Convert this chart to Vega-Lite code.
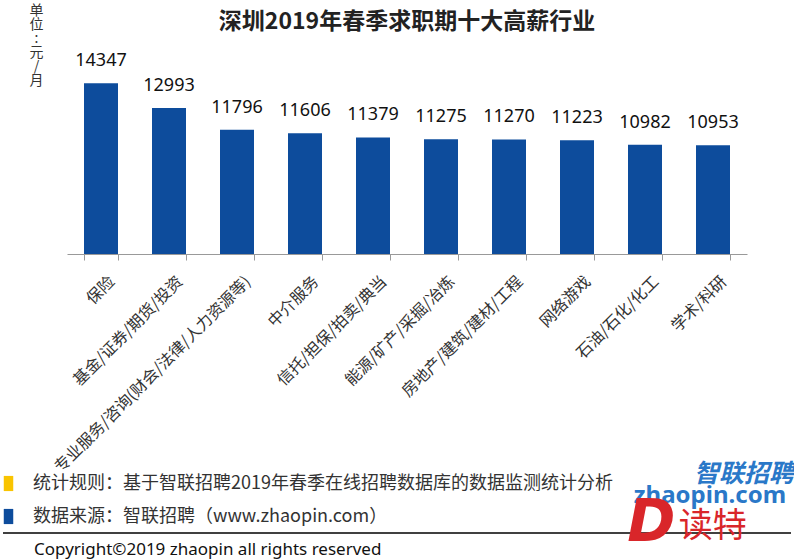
{
  "$schema": "https://vega.github.io/schema/vega-lite/v6.json",
  "background": "white",
  "padding": {"left": 2, "top": 3, "right": 0, "bottom": 0},
  "bounds": "flush",
  "spacing": 213,
  "config": {"view": {"stroke": null}, "font": "Noto Sans CJK SC"},
  "vconcat": [
    {
      "title": {"text": "深圳2019年春季求职期十大高薪行业", "fontSize": 23, "fontWeight": "bold", "color": "#222", "frame": "group", "anchor": "middle", "offset": -31},
      "width": 680,
      "height": 201,
      "data": {"values": [
        {"industry": "保险", "salary": 14347},
        {"industry": "基金/证券/期货/投资", "salary": 12993},
        {"industry": "专业服务/咨询(财会/法律/人力资源等)", "salary": 11796},
        {"industry": "中介服务", "salary": 11606},
        {"industry": "信托/担保/拍卖/典当", "salary": 11379},
        {"industry": "能源/矿产/采掘/冶炼", "salary": 11275},
        {"industry": "房地产/建筑/建材/工程", "salary": 11270},
        {"industry": "网络游戏", "salary": 11223},
        {"industry": "石油/石化/化工", "salary": 10982},
        {"industry": "学术/科研", "salary": 10953}
      ]},
      "encoding": {
        "x": {"field": "industry", "type": "nominal", "sort": null,
          "scale": {"paddingInner": 0.5, "paddingOuter": 0.25},
          "axis": {"title": null, "labelAngle": -45, "labelAlign": "right", "labelBaseline": "top", "labelFontSize": 16, "labelColor": "#333", "labelLimit": 500, "labelPadding": 13, "labelOffset": 5, "tickBand": "extent", "tickColor": "#999", "tickSize": 6, "domainColor": "#999"}},
        "y": {"field": "salary", "type": "quantitative",
          "scale": {"domain": [5000, 16000], "zero": false, "nice": false},
          "axis": {"title": ["单", "位", ":", "元", "/", "月"], "domain": false, "ticks": false, "labels": false, "grid": false, "titleAngle": 0, "titleX": -31, "titleY": -50, "titleAlign": "center", "titleBaseline": "top", "titleFontSize": 14, "titleLineHeight": 14, "titleFontWeight": "normal", "titleColor": "#333"}}
      },
      "layer": [
        {"mark": {"type": "bar", "color": "#0d4c9c"}, "encoding": {"y2": {"datum": 5000}}},
        {"mark": {"type": "text", "baseline": "alphabetic", "dy": -17, "fontSize": 18, "font": "Noto Sans", "color": "#111"}, "encoding": {"text": {"field": "salary", "type": "quantitative", "format": "d"}}}
      ]
    },
    {
      "width": 724,
      "height": 99,
      "data": {"values": [
        {"row": "r1", "marker": "统计规则", "note": "统计规则：基于智联招聘2019年春季在线招聘数据库的数据监测统计分析"},
        {"row": "r2", "marker": "数据来源", "note": "数据来源：智联招聘（www.zhaopin.com）"}
      ]},
      "layer": [
        {"mark": {"type": "point", "shape": "M-1,-1.6H1V1.6H-1Z", "size": 90, "filled": true, "opacity": 1, "strokeWidth": 0},
          "encoding": {
            "x": {"datum": -0.0808, "type": "quantitative", "scale": {"domain": [0, 1], "nice": false, "zero": false}, "axis": null},
            "y": {"field": "row", "type": "nominal", "axis": null, "scale": {"domain": ["r1", "r2", "r3"], "padding": 0}},
            "color": {"field": "marker", "type": "nominal", "scale": {"domain": ["统计规则", "数据来源"], "range": ["#f9c400", "#0d4c9c"]}, "legend": null}
          }},
        {"mark": {"type": "text", "align": "left", "baseline": "middle", "fontSize": 18, "color": "#333"},
          "encoding": {"x": {"datum": -0.047, "type": "quantitative"}, "y": {"field": "row", "type": "nominal"}, "text": {"field": "note"}}},
        {"data": {"values": [{"row": "r3", "copyright": "Copyright©2019 zhaopin all rights reserved"}]},
          "mark": {"type": "text", "align": "left", "baseline": "middle", "fontSize": 17, "font": "Noto Sans", "color": "#111"},
          "encoding": {"x": {"datum": -0.0456, "type": "quantitative"}, "y": {"field": "row", "type": "nominal"}, "text": {"field": "copyright"}}},
        {"data": {"values": [{"divider": "line"}]},
          "mark": {"type": "rule", "color": "#000", "strokeWidth": 1.5},
          "encoding": {"x": {"datum": -0.0884, "type": "quantitative"}, "x2": {"datum": 1}, "y": {"datum": "r3", "type": "nominal", "bandPosition": 0}}},
        {"data": {"values": [{"logo": "智联招聘"}]},
          "mark": {"type": "text", "align": "center", "baseline": "middle", "fontSize": 25, "fontWeight": "bold", "fontStyle": "italic", "color": "#2a78c8", "dy": -10},
          "encoding": {"x": {"datum": 0.935, "type": "quantitative"}, "y": {"datum": "r1", "type": "nominal"}, "text": {"field": "logo"}}},
        {"data": {"values": [{"logo": "zhaopin.com"}]},
          "mark": {"type": "text", "align": "center", "baseline": "middle", "fontSize": 24, "fontWeight": "bold", "font": "Noto Sans", "color": "#2a78c8", "dy": 12},
          "encoding": {"x": {"datum": 0.888, "type": "quantitative"}, "y": {"datum": "r1", "type": "nominal"}, "text": {"field": "logo"}}},
        {"data": {"values": [{"logo": "D"}]},
          "mark": {"type": "text", "align": "center", "baseline": "middle", "fontSize": 58, "fontWeight": "bold", "fontStyle": "italic", "font": "DejaVu Sans", "color": "#d9262a", "dy": 7},
          "encoding": {"x": {"datum": 0.807, "type": "quantitative"}, "y": {"datum": "r2", "type": "nominal"}, "text": {"field": "logo"}}},
        {"data": {"values": [{"logo": "读特"}]},
          "mark": {"type": "text", "align": "center", "baseline": "middle", "fontSize": 34, "fontWeight": "normal", "color": "#d9262a", "dy": 10},
          "encoding": {"x": {"datum": 0.892, "type": "quantitative"}, "y": {"datum": "r2", "type": "nominal"}, "text": {"field": "logo"}}}
      ]
    }
  ]
}
